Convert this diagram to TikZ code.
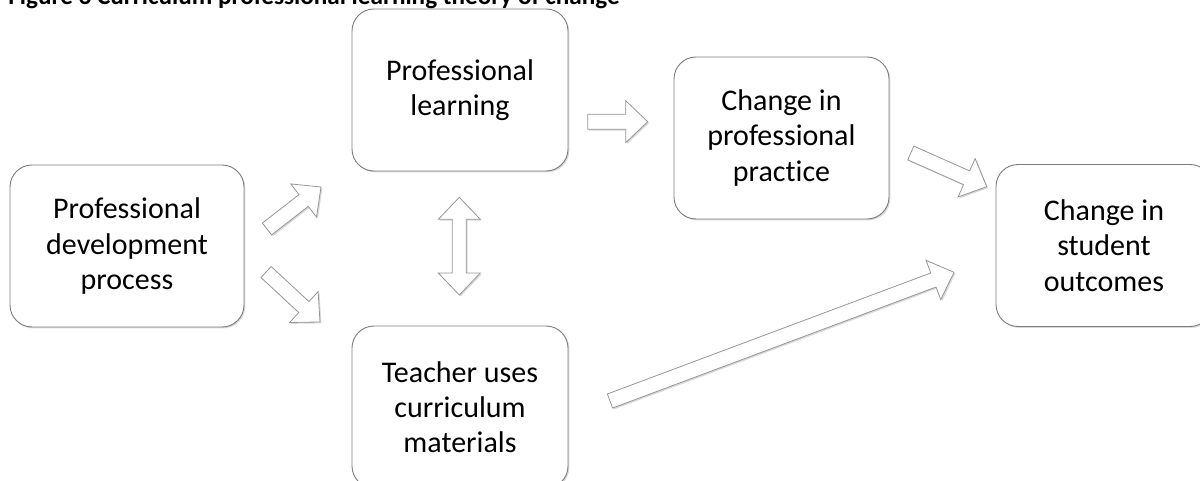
\documentclass[tikz,border=0pt]{standalone}
\usepackage{fontspec}
\setmainfont{Carlito}[Ligatures={NoCommon}]
\usetikzlibrary{calc,shadows}
\definecolor{boxline}{RGB}{125,125,125}
\definecolor{arrline}{RGB}{150,150,150}
\newcommand\blockarr[2]{%
  \coordinate (hb) at ($(#2)!11pt!(#1)$);
  \draw[fatarrow] ($(#1)!3.75pt!90:(#2)$) -- ($(hb)!3.75pt!90:(#2)$) -- ($(hb)!10.5pt!90:(#2)$) -- (#2)
    -- ($(hb)!10.5pt!-90:(#2)$) -- ($(hb)!3.75pt!-90:(#2)$) -- ($(#1)!3.75pt!-90:(#2)$) -- cycle;}
\begin{document}
\begin{tikzpicture}[x=0.5pt,y=-0.5pt,
  softshadow/.style={drop shadow={shadow xshift=0.7pt, shadow yshift=-0.7pt, fill=black, opacity=0.15}},
  box/.style={draw=boxline, line width=0.45pt, fill=white, rounded corners=11pt,
    minimum width=108pt, minimum height=81pt, inner sep=0pt, align=center,
    font=\fontsize{15}{17.6}\selectfont, softshadow},
  fatarrow/.style={draw=arrline, line width=0.4pt, fill=white, line join=miter, softshadow}]
\useasboundingbox (0,0) rectangle (1200,481);
\node[anchor=base west, inner sep=0pt, font=\fontsize{12.6}{15}\selectfont\bfseries] (title) at (8,4.5)
  {Figure 3 Curriculum professional learning theory of change};
\node[box, minimum width=117pt] (pd) at (127,246) {Professional\\development\\process};
\node[box] (pl) at (460,90) {Professional\\learning};
\node[box] (tu) at (460,407) {Teacher uses\\curriculum\\materials};
\node[box, minimum width=107.5pt] (cp) at (781.5,138) {Change in\\professional\\practice};
\node[box] (so) at (1104,245.5) {Change in\\student\\outcomes};
% arrow end points
\coordinate (aT) at (267,229);   \coordinate (aH) at (321,187);
\coordinate (bT) at (266,272);   \coordinate (bH) at (320,322);
\coordinate (hT) at (587.7,121.7); \coordinate (hH) at (647.7,121.7);
\coordinate (cT) at (910.8,153); \coordinate (cH) at (986.7,186.7);
\coordinate (dT) at (610,401);   \coordinate (dH) at (954,272.3);
\coordinate (vTop) at (459.3,197.3); \coordinate (vBot) at (459.3,295);
\blockarr{aT}{aH}
\blockarr{bT}{bH}
\blockarr{hT}{hH}
\blockarr{cT}{cH}
\blockarr{dT}{dH}
\draw[fatarrow] (vTop) -- ($(vTop)+(21,22)$) -- ($(vTop)+(7,22)$) -- ($(vBot)+(7,-22)$) -- ($(vBot)+(21,-22)$)
  -- (vBot) -- ($(vBot)+(-21,-22)$) -- ($(vBot)+(-7,-22)$) -- ($(vTop)+(-7,22)$) -- ($(vTop)+(-21,22)$) -- cycle;
\end{tikzpicture}
\end{document}
